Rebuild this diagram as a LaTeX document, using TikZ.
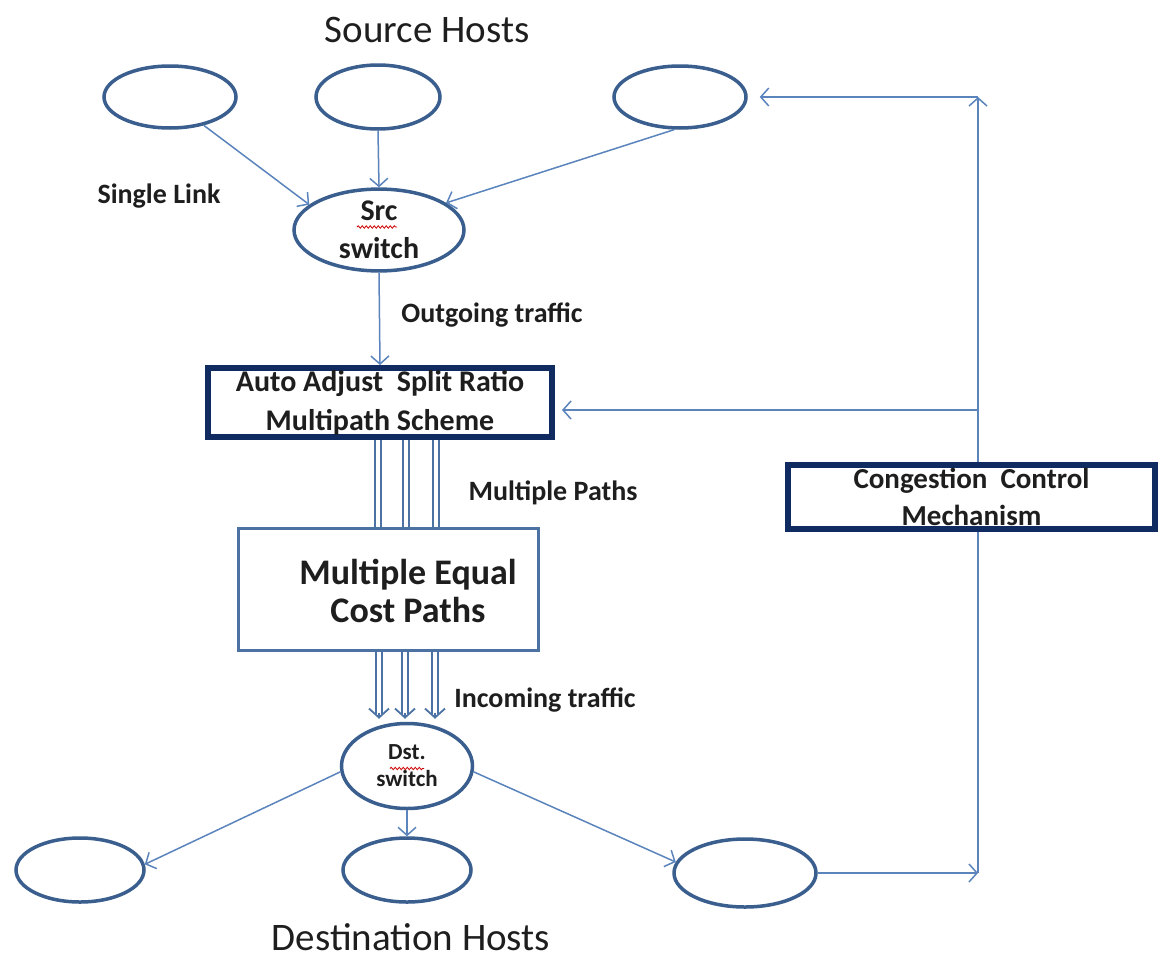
\documentclass[tikz,border=0pt]{standalone}
\usepackage{fontspec}
\setmainfont{Carlito}
\usetikzlibrary{arrows.meta,calc,shapes.geometric,decorations.pathmorphing}
\definecolor{ellc}{HTML}{3A5F8E}
\definecolor{linec}{HTML}{5B84BD}
\definecolor{navy}{HTML}{0F2B61}
\definecolor{boxc}{HTML}{4C72A3}
\definecolor{txt}{HTML}{1E1E1E}
\tikzset{
  host/.style={ellipse,draw=ellc,line width=3.5pt,inner sep=0pt,fill=white},
  conn/.style={draw=linec,line width=1.5pt,-{Straight Barb[length=8pt,width=18pt]}},
  thickbox/.style={draw=navy,line width=6pt,fill=white,inner sep=0pt,align=center,text=txt,font=\bfseries\fontsize{29}{37}\selectfont},
  thinbox/.style={draw=boxc,line width=3pt,fill=white,inner sep=0pt},
  boxtext/.style={align=center,text=txt,inner sep=0pt,font=\bfseries\fontsize{36}{38}\selectfont},
  dbl/.style={draw=boxc,line width=2.5pt,double=white,double distance=3.5pt},
  dbltip/.style={draw=boxc,line width=1.8pt,-{Straight Barb[length=9pt,width=20pt]}},
  lbl/.style={text=txt,font=\bfseries\fontsize{28}{32}\selectfont,inner sep=0pt},
  title/.style={text=txt,font=\fontsize{39}{44}\selectfont,inner sep=0pt},
  squig/.style={draw=red!80!black,line width=0.8pt,decorate,decoration={snake,amplitude=1.2pt,segment length=4pt}}
}
\begin{document}
\begin{tikzpicture}[x=1pt,y=-1pt]
\useasboundingbox[fill=white] (0,0) rectangle (1161,961);

% titles
\node[title] (tsrc) at (427,30) {Source Hosts};
\node[title] (tdst) at (411,937) {Destination Hosts};

% source hosts
\node[host,minimum width=132,minimum height=62] (E1) at (170,97) {};
\node[host,minimum width=124,minimum height=64] (E2) at (378,97) {};
\node[host,minimum width=132,minimum height=62] (E3) at (680,97) {};

% src switch
\node[host,minimum width=170,minimum height=81,align=center,text=txt,
      font=\bfseries\fontsize{30}{38}\selectfont] (src) at (379,230) {Src\\switch};
\draw[squig] ($(src.center)+(-22,-3)$) -- ($(src.center)+(18,-3)$);

\draw[conn] (E1.-40) -- (src.160);
\draw[conn] (E2.south) -- (src.north);
\draw[conn] (E3.-100) -- (src.22);
\node[lbl] (lsingle) at (159,196) {Single Link};

% auto adjust box
\node[thickbox,minimum width=344,minimum height=69,font=\bfseries\fontsize{30}{39}\selectfont] (auto) at (380,402.5)
  {Auto Adjust\ \ Split Ratio\\Multipath Scheme};
\draw[conn] (src.south) -- (auto.north);
\node[lbl] (lout) at (492,315) {Outgoing traffic};

% multiple equal cost paths box
\node[thinbox,minimum width=300,minimum height=122] (mecp) at (388.5,589.5) {};
\node[boxtext] (mecpt) at (408,591) {Multiple Equal\\Cost Paths};

% upper double lines
\foreach \dx in {-2,26,56}{
  \draw[dbl] ([xshift=\dx pt]auto.south) -- ([xshift=\dx pt]auto.south |- mecp.north);
}
\node[lbl] (lmulti) at (553,493) {Multiple Paths};

% dst switch
\node[host,minimum width=131,minimum height=85,align=center,text=txt,
      font=\bfseries\fontsize{23}{27}\selectfont] (dst) at (407,766) {Dst.\\switch};
\draw[squig] ($(dst.center)+(-17,2.5)$) -- ($(dst.center)+(17,2.5)$);

% lower double arrows
\foreach \dx in {-28,-2,28}{
  \draw[dbl] ([xshift=\dx pt]dst.north |- mecp.south) -- ([xshift=\dx pt,yshift=8pt]dst.north);
  \draw[dbltip] ([xshift=\dx pt,yshift=9pt]dst.north) -- ([xshift=\dx pt,yshift=3pt]dst.north);
}
\node[lbl] (lin) at (545,700) {Incoming traffic};

% destination hosts
\node[host,minimum width=128,minimum height=64] (D1) at (80,870) {};
\node[host,minimum width=128,minimum height=64] (D2) at (407,870) {};
\node[host,minimum width=142,minimum height=68] (D3) at (745,873) {};

\draw[conn] (dst.185) -- (D1.5);
\draw[conn] (dst.south) -- (D2.north);
\draw[conn] (dst.-5) -- (D3.171);

% feedback loop
\coordinate (fbB) at (978,873);
\coordinate (fbT) at (978,97);
\coordinate (fbM) at (978,410);
\draw[conn] (D3.east) -- (fbB);
\draw[conn] (fbB) -- (fbT);
\draw[conn,shorten >=12pt] (fbT) -- (E3.east);
\draw[conn,shorten >=7pt] (fbM) -- (fbM -| auto.east);

% congestion control box
\node[thickbox,minimum width=367,minimum height=64] (cong) at (971.5,497)
  {Congestion\ \ Control\\Mechanism};
\end{tikzpicture}
\end{document}
